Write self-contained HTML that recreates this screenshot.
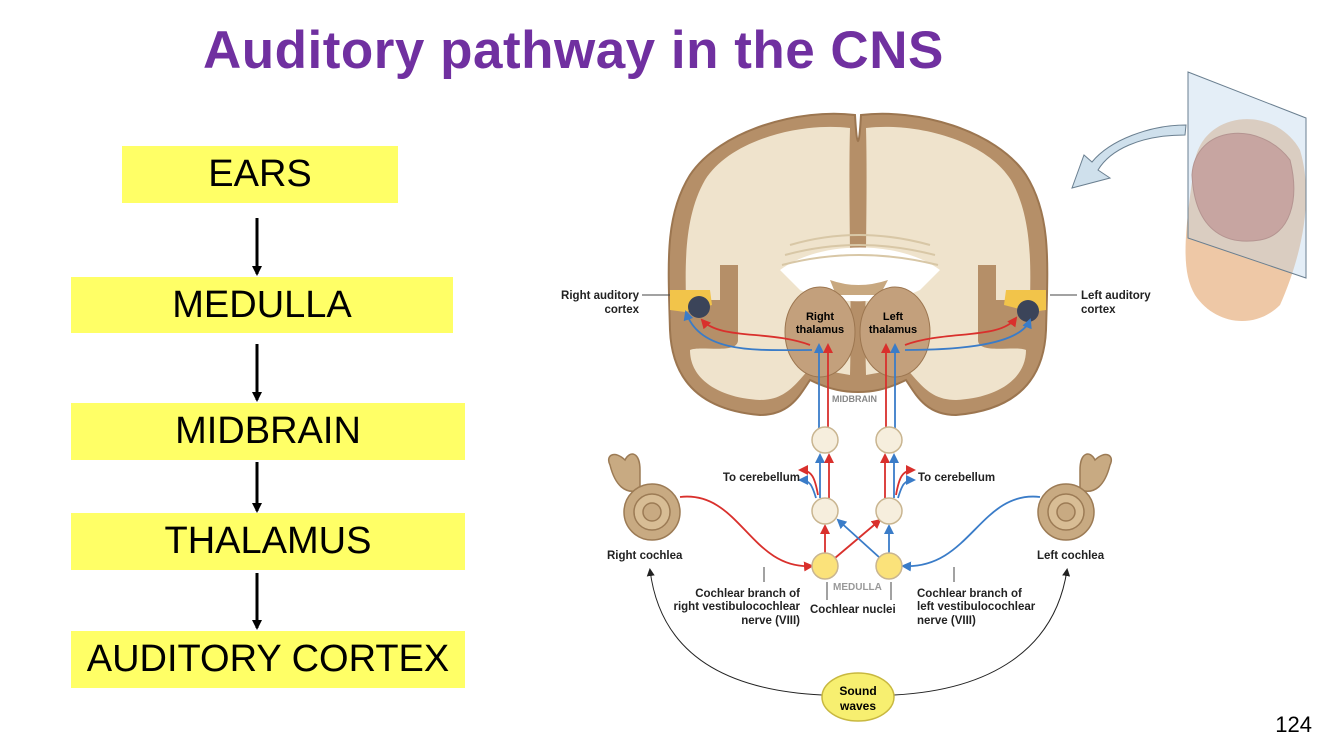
<!DOCTYPE html>
<html><head><meta charset="utf-8"><style>
body{margin:0;width:1334px;height:750px;background:#fff;overflow:hidden;position:relative;font-family:"Liberation Sans",sans-serif}
.t{position:absolute;left:203px;top:20px;font-size:53px;font-weight:bold;color:#7030a0;white-space:nowrap;letter-spacing:0.5px}
.b{position:absolute;background:#ffff66;font-size:38px;display:flex;align-items:center;justify-content:center;color:#000}
.n{position:absolute;right:22px;top:712px;font-size:22px}
svg{position:absolute;left:0;top:0}
</style></head><body>
<div class="t">Auditory pathway in the CNS</div>
<div class="b" style="left:122px;top:146px;width:276px;height:57px">EARS</div>
<div class="b" style="left:71px;top:277px;width:382px;height:56px">MEDULLA</div>
<div class="b" style="left:71px;top:403px;width:394px;height:57px">MIDBRAIN</div>
<div class="b" style="left:71px;top:513px;width:394px;height:57px">THALAMUS</div>
<div class="b" style="left:71px;top:631px;width:394px;height:57px">AUDITORY CORTEX</div>
<div class="n">124</div>
<svg width="1334" height="750" viewBox="0 0 1334 750" font-family="Liberation Sans, sans-serif">
<defs>
<marker id="ak" markerWidth="10" markerHeight="10" refX="8" refY="5" orient="auto" markerUnits="userSpaceOnUse"><path d="M0,0L10,5L0,10z" fill="#000"/></marker>
<marker id="ar" markerWidth="10" markerHeight="10" refX="8" refY="5" orient="auto" markerUnits="userSpaceOnUse"><path d="M0,0L10,5L0,10z" fill="#d9302c"/></marker>
<marker id="ab" markerWidth="10" markerHeight="10" refX="8" refY="5" orient="auto" markerUnits="userSpaceOnUse"><path d="M0,0L10,5L0,10z" fill="#3a7cc8"/></marker>
<marker id="ag" markerWidth="8" markerHeight="8" refX="6" refY="4" orient="auto" markerUnits="userSpaceOnUse"><path d="M0,0L8,4L0,8z" fill="#222"/></marker>
</defs>
<g stroke="#000" stroke-width="3" marker-end="url(#ak)">
<line x1="257" y1="218" x2="257" y2="274"/><line x1="257" y1="344" x2="257" y2="400"/>
<line x1="257" y1="462" x2="257" y2="511"/><line x1="257" y1="573" x2="257" y2="628"/>
</g>
<g stroke="#9c7650" stroke-width="2">
<path d="M855,115 C800,108 720,130 690,175 C665,215 668,260 670,330 C672,380 700,410 760,415 C790,415 800,395 810,380 C830,390 845,392 858,392 C871,392 886,390 906,380 C916,395 926,415 956,415 C1016,410 1044,380 1046,330 C1048,260 1051,215 1026,175 C996,130 916,108 861,115 C859,150 857,150 855,115Z" fill="#b58f68"/>
<path d="M850,128 C800,122 730,140 705,180 C685,215 685,260 686,300 L720,300 L720,265 L738,265 L738,340 C738,355 700,345 690,350 C690,380 720,398 760,400 C785,400 795,385 810,368 L850,375 C852,300 848,200 850,128Z" fill="#efe3cc" stroke="none"/>
<path d="M866,128 C916,122 986,140 1011,180 C1031,215 1031,260 1030,300 L996,300 L996,265 L978,265 L978,340 C978,355 1016,345 1026,350 C1026,380 996,398 956,400 C931,400 921,385 906,368 L866,375 C864,300 868,200 866,128Z" fill="#efe3cc" stroke="none"/>
</g>
<path d="M780,270 C820,240 900,240 940,270 L920,290 C890,305 830,305 800,290Z" fill="#fff"/>
<g stroke="#d8c7a6" stroke-width="2" fill="none"><path d="M790,245 Q858,225 930,245"/><path d="M785,255 Q858,235 935,255"/><path d="M782,265 Q858,245 938,265"/></g>
<path d="M830,280 Q858,290 888,280 L880,295 L836,295Z" fill="#c8a880"/>
<ellipse cx="820" cy="332" rx="35" ry="45" fill="#c3a07c" stroke="#9c7650"/>
<ellipse cx="895" cy="332" rx="35" ry="45" fill="#c3a07c" stroke="#9c7650"/>
<text x="820" y="320" font-size="11" font-weight="bold" text-anchor="middle">Right</text>
<text x="820" y="333" font-size="11" font-weight="bold" text-anchor="middle">thalamus</text>
<text x="893" y="320" font-size="11" font-weight="bold" text-anchor="middle">Left</text>
<text x="893" y="333" font-size="11" font-weight="bold" text-anchor="middle">thalamus</text>
<path d="M670,290 L710,290 L712,305 L685,312 L670,310Z" fill="#f2c44a"/>
<path d="M1046,290 L1006,290 L1004,305 L1031,312 L1046,310Z" fill="#f2c44a"/>
<circle cx="699" cy="307" r="11" fill="#3b4459"/><circle cx="1028" cy="311" r="11" fill="#3b4459"/>
<text x="832" y="402" font-size="9" fill="#888" font-weight="bold">MIDBRAIN</text>
<g fill="none" stroke-width="1.8">
<path d="M819,428 L819,345" stroke="#3a7cc8" marker-end="url(#ab)"/>
<path d="M828,428 L828,345" stroke="#d9302c" marker-end="url(#ar)"/>
<path d="M886,428 L886,345" stroke="#d9302c" marker-end="url(#ar)"/>
<path d="M895,428 L895,345" stroke="#3a7cc8" marker-end="url(#ab)"/>
<path d="M810,345 C770,330 720,340 702,320" stroke="#d9302c" marker-end="url(#ar)"/>
<path d="M812,350 C760,350 700,355 686,312" stroke="#3a7cc8" marker-end="url(#ab)"/>
<path d="M905,345 C945,330 1000,340 1016,318" stroke="#d9302c" marker-end="url(#ar)"/>
<path d="M905,350 C960,350 1020,345 1030,320" stroke="#3a7cc8" marker-end="url(#ab)"/>
<path d="M820,498 L820,455" stroke="#3a7cc8" marker-end="url(#ab)"/>
<path d="M829,498 L829,455" stroke="#d9302c" marker-end="url(#ar)"/>
<path d="M885,498 L885,455" stroke="#d9302c" marker-end="url(#ar)"/>
<path d="M894,498 L894,455" stroke="#3a7cc8" marker-end="url(#ab)"/>
<path d="M818,495 C815,478 812,470 800,470" stroke="#d9302c" marker-end="url(#ar)"/>
<path d="M816,498 C812,485 810,480 800,480" stroke="#3a7cc8" marker-end="url(#ab)"/>
<path d="M896,495 C899,478 902,470 914,470" stroke="#d9302c" marker-end="url(#ar)"/>
<path d="M898,498 C902,485 904,480 914,480" stroke="#3a7cc8" marker-end="url(#ab)"/>
<path d="M825,553 L825,526" stroke="#d9302c" marker-end="url(#ar)"/>
<path d="M889,553 L889,526" stroke="#3a7cc8" marker-end="url(#ab)"/>
<path d="M835,558 L880,520" stroke="#d9302c" marker-end="url(#ar)"/>
<path d="M880,558 L838,520" stroke="#3a7cc8" marker-end="url(#ab)"/>
<path d="M680,497 C740,490 750,570 812,566" stroke="#d9302c" marker-end="url(#ar)"/>
<path d="M1040,497 C980,490 970,570 903,566" stroke="#3a7cc8" marker-end="url(#ab)"/>
</g>
<g stroke="#c9b590" stroke-width="1.5">
<circle cx="825" cy="440" r="13" fill="#f6eedd"/><circle cx="889" cy="440" r="13" fill="#f6eedd"/>
<circle cx="825" cy="511" r="13" fill="#f6eedd"/><circle cx="889" cy="511" r="13" fill="#f6eedd"/>
<circle cx="825" cy="566" r="13" fill="#fbe27a"/><circle cx="889" cy="566" r="13" fill="#fbe27a"/>
</g>
<text x="833" y="590" font-size="10" fill="#999" font-weight="bold">MEDULLA</text>
<g fill="#c8aa82" stroke="#9c7b55" stroke-width="1.5">
<path d="M610,465 C605,455 615,450 625,460 C630,450 640,452 640,470 L640,490 C625,495 615,485 610,465Z"/>
<circle cx="652" cy="512" r="28"/><circle cx="652" cy="512" r="18" fill="#d8bd95"/><circle cx="652" cy="512" r="9"/>
<path d="M1110,465 C1115,455 1105,450 1095,460 C1090,450 1080,452 1080,470 L1080,490 C1095,495 1105,485 1110,465Z"/>
<circle cx="1066" cy="512" r="28"/><circle cx="1066" cy="512" r="18" fill="#d8bd95"/><circle cx="1066" cy="512" r="9"/>
</g>
<g font-size="11.5" font-weight="bold" fill="#222">
<text x="607" y="559">Right cochlea</text>
<text x="1037" y="559">Left cochlea</text>
<text x="800" y="481" text-anchor="end">To cerebellum</text>
<text x="918" y="481">To cerebellum</text>
<text x="800" y="597" text-anchor="end">Cochlear branch of</text>
<text x="800" y="610" text-anchor="end">right vestibulocochlear</text>
<text x="800" y="624" text-anchor="end">nerve (VIII)</text>
<text x="810" y="613">Cochlear nuclei</text>
<text x="917" y="597">Cochlear branch of</text>
<text x="917" y="610">left vestibulocochlear</text>
<text x="917" y="624">nerve (VIII)</text>
<text x="639" y="299" text-anchor="end">Right auditory</text>
<text x="639" y="313" text-anchor="end">cortex</text>
<text x="1081" y="299">Left auditory</text>
<text x="1081" y="313">cortex</text>
</g>
<g stroke="#444" stroke-width="1" fill="none">
<line x1="642" y1="295" x2="670" y2="295"/><line x1="1050" y1="295" x2="1077" y2="295"/>
<line x1="764" y1="567" x2="764" y2="582"/><line x1="954" y1="567" x2="954" y2="582"/>
<line x1="827" y1="582" x2="827" y2="600"/><line x1="891" y1="582" x2="891" y2="600"/>
<path d="M822,695 C720,690 660,650 650,570" stroke="#222" marker-end="url(#ag)"/>
<path d="M894,695 C990,690 1055,650 1067,570" stroke="#222" marker-end="url(#ag)"/>
</g>
<ellipse cx="858" cy="697" rx="36" ry="24" fill="#f7ef70" stroke="#c8b840" stroke-width="1.5"/>
<text x="858" y="695" font-size="12" font-weight="bold" text-anchor="middle">Sound</text>
<text x="858" y="710" font-size="12" font-weight="bold" text-anchor="middle">waves</text>
<path d="M1195,160 C1185,230 1180,270 1195,295 C1215,325 1255,330 1280,305 C1300,260 1315,200 1300,150 C1275,105 1205,110 1195,160Z" fill="#eec8a6"/>
<path d="M1192,175 C1195,125 1260,120 1290,160 C1300,200 1290,235 1260,240 C1230,245 1195,235 1192,175Z" fill="#cf8670" stroke="#b06a55"/>
<path d="M1188,72 L1306,118 L1306,278 L1188,238Z" fill="#bcd5ea" fill-opacity="0.4" stroke="#6a7f90"/>
<path d="M1185,135 C1140,135 1110,150 1098,170 L1110,178 L1072,188 L1084,155 L1092,162 C1110,140 1150,125 1186,125Z" fill="#cfe0ec" stroke="#6a7f90"/>
</svg>
</body></html>
